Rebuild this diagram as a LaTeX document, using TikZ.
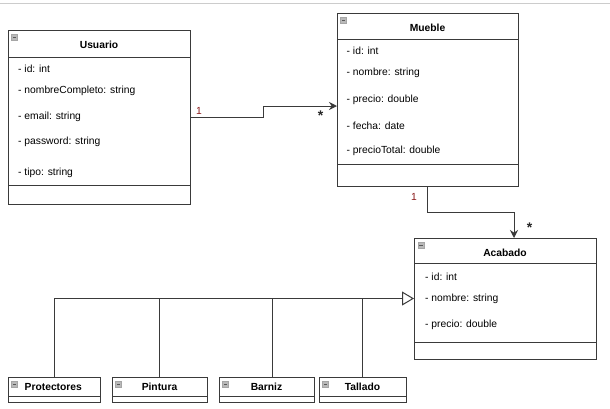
\documentclass[tikz,border=0pt]{standalone}
\usepackage{fontspec}
\setmainfont{Liberation Sans}
\usetikzlibrary{arrows.meta}
\definecolor{lc}{HTML}{3A3A3A}
\definecolor{mult}{HTML}{8B1A1A}
\tikzset{
  cls/.style={draw=lc, line width=0.9pt, anchor=north west, inner sep=0pt, outer sep=0pt},
  ttl/.style={font=\fontsize{10.3}{12}\selectfont\bfseries, inner sep=0pt, anchor=center},
  attr/.style={font=\fontsize{10.3}{12}\selectfont, inner sep=0pt, anchor=west},
  sep/.style={draw=lc, line width=0.9pt},
  icon/.style={fill=gray!55, draw=gray!70, line width=0.4pt},
  conn/.style={draw=lc, line width=1pt},
  mlab/.style={font=\fontsize{10.3}{12}\selectfont, inner sep=0pt, text=mult},
  slab/.style={font=\fontsize{14}{14}\selectfont\bfseries, inner sep=0pt, text=black!85},
}
\newcommand{\clsicon}[2]{\draw[icon] (#1,#2) rectangle ++(6,6); \draw[line width=1pt, black!65] (#1+1.3,#2+3) -- ++(3.4,0);}
\begin{document}
\begin{tikzpicture}[x=1pt,y=-1pt]
\useasboundingbox (0,0) rectangle (610,408);
\fill[white] (0,0) rectangle (610,408);
\draw[gray!40, line width=1pt] (0,3.5) -- (610,3.5);

% Usuario
\node[cls, minimum width=182pt, minimum height=174pt] (usuario) at (8,30) {};
\draw[sep] (8,57) -- (190,57);
\draw[sep] (8,185.5) -- (190,185.5);
\clsicon{11.5}{34}
\node[ttl] (usuarioT) at (99,44.5) {Usuario};
\node[attr] (u1) at (18,68.5) {- id: int};
\node[attr] (u2) at (18,90.5) {- nombreCompleto: string};
\node[attr] (u3) at (18,117) {- email: string};
\node[attr] (u4) at (18,142) {- password: string};
\node[attr] (u5) at (18,172.5) {- tipo: string};

% Mueble
\node[cls, minimum width=181pt, minimum height=173pt] (mueble) at (337,13) {};
\draw[sep] (337,39) -- (518,39);
\draw[sep] (337,164) -- (518,164);
\clsicon{340.5}{17}
\node[ttl] (muebleT) at (427.5,27.5) {Mueble};
\node[attr] (m1) at (346.5,51) {- id: int};
\node[attr] (m2) at (346.5,73) {- nombre: string};
\node[attr] (m3) at (346.5,99.5) {- precio: double};
\node[attr] (m4) at (346.5,125.5) {- fecha: date};
\node[attr] (m5) at (346.5,151) {- precioTotal: double};

% Acabado
\node[cls, minimum width=182pt, minimum height=121pt] (acabado) at (414,238) {};
\draw[sep] (414,263) -- (596,263);
\draw[sep] (414,342) -- (596,342);
\clsicon{418}{242}
\node[ttl] (acabadoT) at (505,252.5) {Acabado};
\node[attr] (a1) at (425,276.5) {- id: int};
\node[attr] (a2) at (425,298.5) {- nombre: string};
\node[attr] (a3) at (425,324.5) {- precio: double};

% Subclasses
\node[cls, minimum width=92pt, minimum height=25pt] (protectores) at (8,377) {};
\draw[sep] (8,396.5) -- (100,396.5);
\clsicon{11.5}{381}
\node[ttl] (protectoresT) at (53.3,387) {Protectores};

\node[cls, minimum width=95pt, minimum height=25pt] (pintura) at (112,377) {};
\draw[sep] (112,396.5) -- (207,396.5);
\clsicon{115.5}{381}
\node[ttl] (pinturaT) at (159.5,387) {Pintura};

\node[cls, minimum width=95pt, minimum height=25pt] (barniz) at (219,377) {};
\draw[sep] (219,396.5) -- (314,396.5);
\clsicon{222.5}{381}
\node[ttl] (barnizT) at (266.5,387) {Barniz};

\node[cls, minimum width=87pt, minimum height=25pt] (tallado) at (319,377) {};
\draw[sep] (319,396.5) -- (406,396.5);
\clsicon{322.5}{381}
\node[ttl] (talladoT) at (362.5,387) {Tallado};

% Associations
\draw[conn, -{Stealth[length=8pt,width=8pt]}] (usuario.east) -- ++(73,0) |- ([yshift=-6.5pt]mueble.west);
\node[mlab] (l1) at (199,111) {1};
\node[slab] (l2) at (320.5,116) {*};

\draw[conn, -{Stealth[length=8pt,width=8pt]}] (mueble.south) -- ++(0,26) -| ([xshift=9pt]acabado.north);
\node[mlab] (l3) at (414,197) {1};
\node[slab] (l4) at (529.5,228) {*};

% Generalization
\draw[conn, -{Triangle[open,length=12pt,width=14pt]}] (protectores.north) |- (acabado.west);
\draw[conn] (pintura.north) -- (pintura.north |- acabado.west);
\draw[conn] ([xshift=5.5pt]barniz.north) -- ([xshift=5.5pt]barniz.north |- acabado.west);
\draw[conn] (tallado.north) -- (tallado.north |- acabado.west);
\end{tikzpicture}
\end{document}
